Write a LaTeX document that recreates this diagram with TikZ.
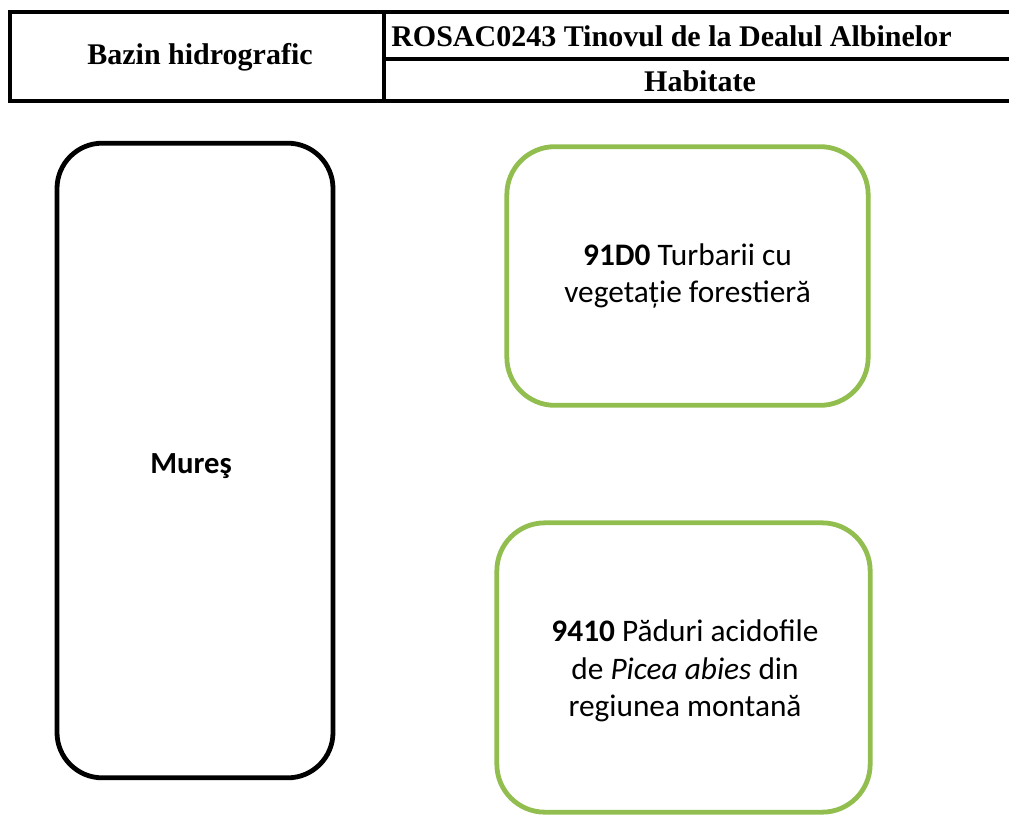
\documentclass[tikz,border=0pt]{standalone}
\usepackage{fontspec}
\setmainfont{Liberation Serif}
\setsansfont{Carlito}
\usepackage{xcolor}
\usetikzlibrary{positioning}

\definecolor{habgreen}{RGB}{146,190,80}

\begin{document}
\begin{tikzpicture}[
    x=0.75pt, y=-0.75pt,
    headtext/.style={font=\fontsize{22.5}{26}\selectfont\bfseries, inner sep=0pt},
    basin/.style={rectangle, draw=black, line width=3.6pt, rounded corners=34pt, font=\sffamily\fontsize{23}{28}\selectfont\bfseries},
    habitat/.style={rectangle, draw=habgreen, line width=3.6pt, rounded corners=36pt, align=center, font=\sffamily\fontsize{23.5}{28}\selectfont}
]
\useasboundingbox (0,0) rectangle (1009,817);

% Header table
\draw[line width=2.6pt] (1009,12) -- (10,12) -- (10,101) -- (1009,101);
\draw[line width=2.4pt] (384,12) -- (384,101);
\draw[line width=2.4pt] (384,59) -- (1009,59);

\node[headtext] (bazin) at (200,57) {Bazin hidrografic};
\node[headtext, anchor=west] (site) at (391,36) {ROSAC0243 Tinovul de la Dealul Albinelor};
\node[headtext] (habitate) at (700,81) {Habitate};

% Boxes
\node[basin, minimum width=207pt, minimum height=476pt] (mures) at (195,460.5) {};
\node[font=\sffamily\fontsize{23}{28}\selectfont\bfseries] (murestext) at (191,466) {Mureş};

\node[habitat, minimum width=271pt, minimum height=194pt] (h91d0) at (687.5,276) {%
    \textbf{91D0} Turbarii cu\\
    vegetație forestieră};

\node[habitat, minimum width=280pt, minimum height=217pt] (h9410) at (683.5,667.5) {};
\node[align=center, font=\sffamily\fontsize{23.5}{28}\selectfont] (h9410text) at (685,671) {%
    \textbf{9410} Păduri acidofile\\
    de \textit{Picea abies} din\\
    regiunea montană};

\end{tikzpicture}
\end{document}
